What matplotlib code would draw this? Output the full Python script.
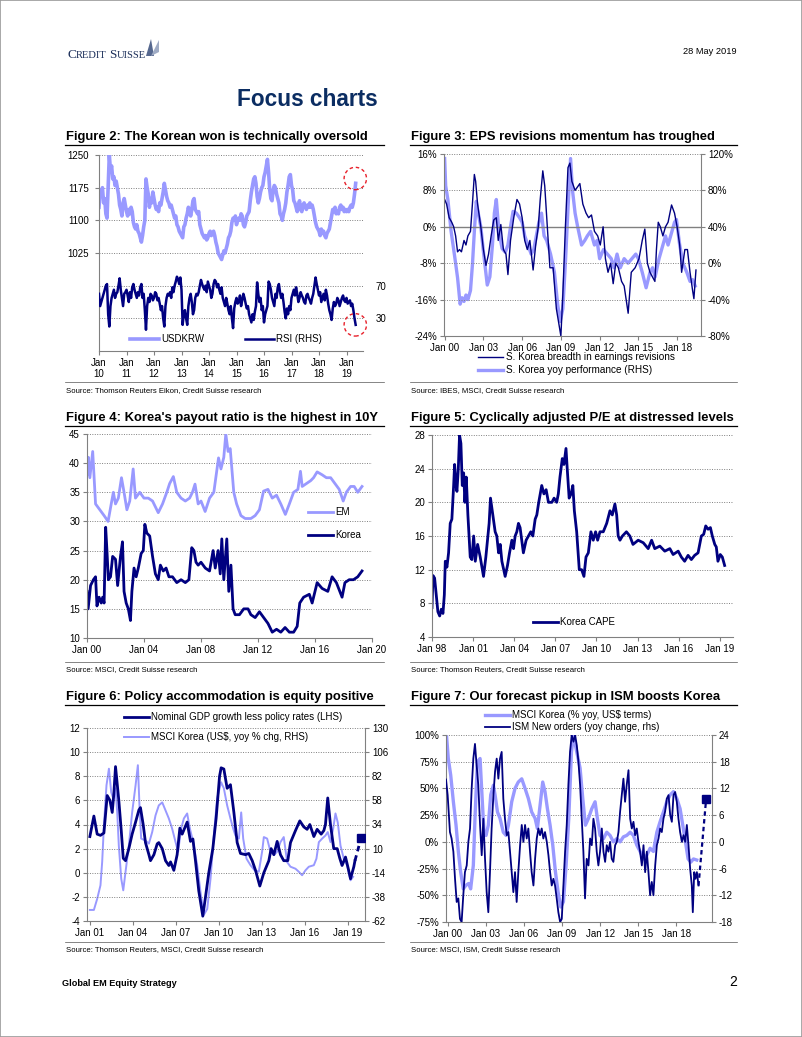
import numpy as np
import matplotlib.pyplot as plt
from matplotlib.lines import Line2D
from matplotlib.patches import Polygon, Rectangle

# ---------------- data ----------------
# Figure 2: USDKRW and RSI, two readings per month from Jan 2010
usdkrw = [
    1130, 1170, 1160, 1175, 1140, 1150, 1115, 1105, 1180, 1250, 1215, 1225,
    1195, 1200, 1180, 1190, 1175, 1160, 1135, 1125, 1110, 1140, 1150, 1135,
    1120, 1110, 1125, 1115, 1130, 1120, 1095, 1085, 1080, 1090, 1075, 1070,
    1060, 1050, 1065, 1085, 1100, 1195, 1175, 1160, 1130, 1150, 1140, 1165,
    1150, 1135, 1125, 1130, 1120, 1140, 1135, 1150, 1165, 1185, 1170, 1155,
    1145, 1140, 1130, 1135, 1125, 1115, 1105, 1110, 1090, 1085, 1075, 1070,
    1065, 1060, 1085, 1090, 1105, 1115, 1130, 1120, 1110, 1125, 1145, 1150,
    1125, 1120, 1115, 1120, 1090, 1080, 1070, 1065, 1060, 1065, 1055, 1060,
    1070, 1075, 1065, 1070, 1075, 1065, 1050, 1040, 1025, 1020, 1015, 1010,
    1020, 1030, 1025, 1035, 1045, 1060, 1065, 1075, 1095, 1105, 1100, 1110,
    1090, 1100, 1105, 1100, 1115, 1110, 1090, 1085, 1095, 1110, 1115, 1120,
    1145, 1165, 1180, 1195, 1200, 1185, 1155, 1140, 1150, 1165, 1175, 1180,
    1200, 1210, 1225, 1240, 1210, 1170, 1150, 1145, 1170, 1180, 1175, 1160,
    1150, 1140, 1115, 1110, 1100, 1115, 1125, 1140, 1165, 1180, 1200, 1205,
    1180, 1170, 1145, 1140, 1130, 1120, 1135, 1145, 1125, 1120, 1135, 1140,
    1130, 1125, 1135, 1130, 1140, 1130, 1135, 1125, 1110, 1095, 1085, 1080,
    1075, 1065, 1080, 1070, 1075, 1065, 1060, 1070, 1075, 1080, 1095, 1110,
    1125, 1120, 1130, 1115, 1120, 1115, 1130, 1135, 1125, 1130, 1120, 1125,
    1120, 1125, 1120, 1130, 1135, 1130, 1140, 1160, 1185,
]
rsi = [
    60, 45, 50, 55, 60, 65, 70, 72, 35, 20, 45, 55, 60, 65, 55, 60, 62, 70, 79, 65, 55, 45, 60, 62,
    65, 58, 50, 62, 55, 68, 72, 65, 60, 55, 62, 58, 68, 72, 55, 60, 40, 16, 45, 55, 50, 60, 58, 52,
    55, 62, 60, 52, 55, 48, 40, 45, 30, 20, 45, 55, 60, 58, 62, 55, 68, 62, 70, 75, 81, 78, 72, 80,
    65, 22, 35, 40, 30, 22, 45, 55, 60, 50, 35, 40, 55, 60, 58, 62, 70, 77, 72, 68, 65, 70, 62, 75,
    70, 65, 55, 60, 72, 77, 75, 68, 72, 65, 60, 68, 55, 50, 45, 55, 48, 40, 35, 45, 30, 18, 42, 50,
    55, 48, 50, 58, 45, 52, 60, 55, 48, 42, 45, 35, 30, 25, 35, 28, 38, 45, 74, 60, 50, 55, 40, 45,
    25, 35, 40, 45, 75, 72, 65, 55, 50, 45, 60, 55, 68, 72, 62, 55, 60, 50, 38, 30, 42, 35, 45, 40,
    55, 60, 65, 58, 68, 60, 50, 55, 62, 58, 55, 50, 48, 58, 60, 55, 52, 48, 55, 60, 70, 80, 72, 65,
    58, 62, 50, 55, 60, 52, 65, 58, 48, 40, 35, 28, 42, 50, 45, 48, 55, 52, 45, 50, 55, 58, 52, 50,
    55, 48, 50, 52, 45, 48, 40, 30, 22,
]
fig2_start = 2010.0

# Figure 3: (decimal year, value)
breadth = [
    (2000.0, 6), (2000.15, 5), (2000.35, 2), (2000.55, 1), (2000.7, 0), (2000.85, -2),
    (2001.0, -5.5), (2001.15, -5), (2001.3, -5.5), (2001.5, -3), (2001.65, -4), (2001.8, -2),
    (2002.0, -1), (2002.15, 5), (2002.3, 11.5), (2002.4, 10), (2002.55, 5), (2002.8, 0),
    (2003.0, -5), (2003.2, -8.5), (2003.4, -6), (2003.6, -2), (2003.8, 1.5), (2004.0, 2),
    (2004.15, -3), (2004.35, 0.5), (2004.55, -5), (2004.75, -6), (2004.9, -10.5), (2005.1, -3),
    (2005.35, 2), (2005.6, 6), (2005.8, 5), (2006.0, 2), (2006.2, -3), (2006.4, -5), (2006.6, -3),
    (2006.85, -9.5), (2007.05, -4), (2007.25, 0), (2007.4, 6), (2007.6, 12.3), (2007.75, 9),
    (2007.95, 0), (2008.15, -9), (2008.4, -9), (2008.65, -18), (2009.0, -24), (2009.15, -15),
    (2009.35, 0), (2009.55, 13), (2009.7, 14), (2009.85, 10), (2010.1, 8), (2010.47, 9.5),
    (2010.7, 5), (2010.95, 3), (2011.15, 2), (2011.37, 2.6), (2011.6, -1), (2011.85, -2),
    (2012.05, -4), (2012.27, 0), (2012.45, -7), (2012.65, -10), (2012.85, -8), (2013.05, -12.5),
    (2013.25, -8), (2013.45, -9), (2013.7, -12), (2013.9, -13), (2014.21, -19), (2014.45, -10),
    (2014.75, -9), (2015.05, -7), (2015.3, -3), (2015.5, -0.5), (2015.7, -8), (2015.9, -10),
    (2016.28, -12), (2016.4, -5), (2016.54, 1), (2016.7, 0), (2016.9, -2), (2017.1, 0),
    (2017.3, 1), (2017.57, 4.8), (2017.8, 3), (2018.0, 0), (2018.2, -4), (2018.35, -10),
    (2018.6, -5), (2018.8, -5), (2019.0, -10), (2019.2, -14), (2019.3, -15.8), (2019.46, -9.5),
]
kor_yoy = [
    (2000.0, 115), (2000.08, 85), (2000.25, 70), (2000.5, 35), (2000.8, 5), (2001.0, -16),
    (2001.2, -45), (2001.35, -38), (2001.5, -42), (2001.65, -35), (2001.8, -40), (2002.0, -30),
    (2002.15, -2), (2002.3, 35), (2002.45, 68), (2002.6, 55), (2002.8, 40), (2003.0, 13),
    (2003.3, -24), (2003.5, -15), (2003.7, 20), (2003.85, 55), (2004.0, 70), (2004.2, 35),
    (2004.45, 16), (2004.7, 12), (2004.9, 20), (2005.1, 40), (2005.3, 57), (2005.55, 55),
    (2005.8, 50), (2006.0, 45), (2006.2, 30), (2006.45, 20), (2006.7, 10), (2006.9, 15),
    (2007.1, 30), (2007.3, 45), (2007.5, 55), (2007.7, 30), (2007.9, 25), (2008.2, 10),
    (2008.5, -10), (2008.75, -45), (2008.95, -64), (2009.15, -50), (2009.35, 0), (2009.55, 60),
    (2009.75, 115), (2009.9, 80), (2010.1, 55), (2010.3, 40), (2010.6, 20), (2010.85, 25),
    (2011.05, 30), (2011.3, 35), (2011.6, 20), (2011.8, 25), (2012.0, 5), (2012.3, 15),
    (2012.6, 10), (2012.9, 5), (2013.1, -5), (2013.35, 10), (2013.6, -5), (2013.9, 5),
    (2014.2, 0), (2014.5, 5), (2014.8, 10), (2015.0, 5), (2015.3, -10), (2015.6, -27),
    (2015.9, -10), (2016.1, -5), (2016.3, -15), (2016.6, 5), (2016.9, 20), (2017.1, 30),
    (2017.3, 20), (2017.5, 30), (2017.8, 45), (2017.95, 48), (2018.2, 20), (2018.45, 0),
    (2018.75, -10), (2019.0, -20), (2019.2, -18), (2019.4, -25),
]

# Figure 4: payout ratio
em_payout = [
    (2000.0, 38), (2000.1, 41), (2000.2, 37.5), (2000.4, 42), (2000.6, 33), (2000.9, 32),
    (2001.2, 31), (2001.48, 30), (2001.7, 33), (2001.85, 35), (2002.0, 33), (2002.2, 34),
    (2002.42, 37.5), (2002.6, 35), (2002.8, 32), (2003.0, 33.5), (2003.24, 39), (2003.4, 34),
    (2003.7, 35), (2004.0, 34), (2004.3, 34), (2004.6, 33.5), (2005.0, 31.5), (2005.3, 33),
    (2005.6, 35), (2005.8, 36.5), (2006.06, 37.7), (2006.3, 35), (2006.6, 34), (2006.9, 33.5),
    (2007.2, 34), (2007.4, 35), (2007.58, 36.4), (2007.8, 33), (2008.0, 33.5), (2008.29, 31.7),
    (2008.6, 34), (2008.9, 35), (2009.23, 40.9), (2009.4, 39), (2009.6, 41), (2009.74, 45),
    (2009.9, 42), (2010.05, 42.5), (2010.3, 35), (2010.5, 33), (2010.8, 31), (2011.1, 30.5),
    (2011.5, 30.5), (2011.8, 31), (2012.1, 32), (2012.39, 35.2), (2012.7, 35.5), (2013.0, 34),
    (2013.3, 34.5), (2013.6, 33), (2013.92, 31.2), (2014.2, 33), (2014.5, 35), (2014.8, 35.5),
    (2014.98, 38.6), (2015.1, 36), (2015.4, 36.5), (2015.7, 37), (2015.9, 37.5), (2016.15, 38.5),
    (2016.5, 38), (2016.8, 37.5), (2017.1, 37.5), (2017.4, 36.5), (2017.7, 35.5), (2017.98, 33.5),
    (2018.2, 35), (2018.5, 36), (2018.75, 36), (2019.0, 35), (2019.3, 36),
]
korea_payout = [
    (2000.0, 18), (2000.08, 15), (2000.25, 19), (2000.45, 20), (2000.6, 20.5), (2000.7, 15.5),
    (2000.85, 17), (2001.0, 16), (2001.1, 17), (2001.2, 16), (2001.31, 29), (2001.4, 25),
    (2001.5, 20), (2001.65, 20.5), (2001.8, 24), (2002.0, 23.5), (2002.15, 19), (2002.35, 24),
    (2002.49, 26.5), (2002.6, 18), (2002.75, 16), (2002.9, 15), (2003.05, 13), (2003.15, 18),
    (2003.3, 22), (2003.45, 20.5), (2003.6, 22), (2003.8, 24.5), (2003.95, 25), (2004.06, 29.5),
    (2004.2, 28), (2004.4, 27.5), (2004.6, 24), (2004.8, 21), (2005.0, 20), (2005.15, 22.5),
    (2005.35, 21.5), (2005.55, 22), (2005.75, 20.5), (2006.0, 20.5), (2006.3, 19.5), (2006.6, 20),
    (2006.9, 19.5), (2007.15, 20), (2007.35, 25.5), (2007.5, 25), (2007.65, 23), (2007.8, 22.5),
    (2008.0, 23), (2008.3, 22), (2008.6, 21.5), (2008.85, 25), (2009.0, 22), (2009.2, 25),
    (2009.35, 21), (2009.46, 27), (2009.6, 20), (2009.81, 27), (2009.95, 18), (2010.1, 22.5),
    (2010.25, 15), (2010.4, 14), (2010.7, 14), (2011.0, 15), (2011.3, 15), (2011.5, 14),
    (2011.8, 13.5), (2012.1, 14.5), (2012.4, 13.5), (2012.7, 12.5), (2013.0, 11), (2013.3, 11.5),
    (2013.6, 11), (2013.9, 11.8), (2014.2, 11), (2014.5, 11), (2014.75, 12), (2014.93, 16),
    (2015.2, 17), (2015.6, 17.5), (2015.8, 16), (2016.15, 19.5), (2016.5, 18.5), (2016.9, 18),
    (2017.2, 20.5), (2017.5, 19.5), (2017.9, 17), (2018.1, 19.5), (2018.4, 20), (2018.7, 20),
    (2019.0, 20.5), (2019.3, 21.5),
]

# Figure 5: Korea CAPE
cape = [
    (1998.0, 7.5), (1998.07, 11.3), (1998.19, 11), (1998.31, 9), (1998.43, 7), (1998.56, 6.5),
    (1998.68, 7.3), (1998.8, 6.8), (1998.9, 9), (1998.97, 13), (1999.09, 12.3), (1999.21, 14),
    (1999.33, 17.5), (1999.45, 18), (1999.58, 22), (1999.65, 24.5), (1999.75, 22), (1999.82, 21.3),
    (1999.92, 24), (2000.01, 28), (2000.11, 27), (2000.21, 22), (2000.31, 23.5), (2000.4, 20),
    (2000.5, 23), (2000.62, 18.5), (2000.79, 13.5), (2000.91, 13.2), (2001.04, 16), (2001.16, 13),
    (2001.33, 15), (2001.52, 13.5), (2001.76, 11.2), (2001.93, 13.5), (2002.05, 15.5),
    (2002.17, 17.5), (2002.27, 20.5), (2002.44, 18.5), (2002.61, 16.5), (2002.73, 16),
    (2002.86, 14), (2002.98, 15), (2003.1, 13), (2003.34, 11.2), (2003.51, 12.5), (2003.66, 14),
    (2003.83, 15.5), (2003.95, 14.5), (2004.07, 16), (2004.19, 16.5), (2004.31, 17.5),
    (2004.43, 17), (2004.55, 15.5), (2004.67, 14), (2004.87, 15.5), (2005.04, 16),
    (2005.21, 16.5), (2005.36, 16), (2005.53, 18), (2005.65, 18.5), (2005.79, 20), (2006.01, 22),
    (2006.17, 21), (2006.33, 21.5), (2006.5, 20), (2006.75, 20), (2006.91, 20.5), (2007.1, 20),
    (2007.22, 21), (2007.34, 23), (2007.51, 25.2), (2007.63, 24.5), (2007.78, 26.4),
    (2007.87, 24), (2008.01, 20.5), (2008.15, 21), (2008.28, 22), (2008.39, 19),
    (2008.56, 16.5), (2008.75, 12), (2008.92, 12), (2009.09, 11.2), (2009.24, 13.5),
    (2009.41, 14), (2009.6, 16.5), (2009.77, 15.5), (2009.94, 16.5), (2010.09, 15.5),
    (2010.26, 16.5), (2010.5, 16.5), (2010.75, 17.5), (2010.99, 19), (2011.16, 18.5),
    (2011.35, 19.8), (2011.48, 18.5), (2011.59, 16), (2011.72, 15.5), (2011.9, 16),
    (2012.19, 16.5), (2012.44, 16), (2012.67, 15), (2013.05, 15.5), (2013.42, 15.2),
    (2013.78, 14.5), (2014.03, 15.5), (2014.26, 14.5), (2014.63, 14.8), (2014.99, 14.2),
    (2015.36, 14.5), (2015.6, 13.8), (2015.97, 14.2), (2016.2, 13.5), (2016.44, 13),
    (2016.69, 13.7), (2016.93, 13.2), (2017.17, 13.7), (2017.42, 14), (2017.54, 15),
    (2017.66, 16), (2017.83, 16.2), (2017.98, 17.2), (2018.15, 16.8), (2018.32, 17),
    (2018.46, 16), (2018.64, 15), (2018.75, 14.7), (2018.87, 13), (2019.04, 13.8),
    (2019.19, 13.5), (2019.36, 12.5),
]

# Figure 6: nominal GDP growth less policy rates (LHS) and MSCI Korea yoy (RHS)
gdp_less_rates = [
    (2001.0, 3.0), (2001.28, 4.7), (2001.51, 3.2), (2001.74, 3.1), (2001.98, 3.3), (2002.21, 6.4),
    (2002.4, 6.0), (2002.56, 5.0), (2002.67, 6.5), (2002.79, 8.8), (2003.02, 6.0), (2003.19, 3.5),
    (2003.33, 1.2), (2003.49, 1.0), (2003.72, 2.0), (2003.95, 3.2), (2004.19, 4.2), (2004.42, 5.2),
    (2004.53, 5.4), (2004.72, 4.0), (2004.88, 2.5), (2005.12, 1.5), (2005.23, 1.0), (2005.47, 1.5),
    (2005.7, 2.4), (2005.81, 2.5), (2006.05, 2.0), (2006.28, 1.0), (2006.51, 0.6), (2006.63, 0.9),
    (2006.86, 0.2), (2007.09, 1.5), (2007.28, 3.7), (2007.44, 3.2), (2007.79, 4.2), (2008.02, 2.6),
    (2008.19, 2.8), (2008.37, 1.0), (2008.6, -1.5), (2008.88, -3.6), (2009.07, -2.0), (2009.3, 0.0),
    (2009.58, 2.0), (2009.81, 4.5), (2010.05, 8.0), (2010.16, 8.7), (2010.35, 8.6), (2010.58, 7.0),
    (2010.81, 7.3), (2011.05, 5.0), (2011.28, 2.5), (2011.51, 1.6), (2011.86, 1.5), (2012.09, 1.6),
    (2012.33, 1.0), (2012.56, 0.2), (2012.86, -1.1), (2013.14, 0.0), (2013.49, 1.0), (2013.65, 2.0),
    (2013.84, 1.5), (2014.07, 2.6), (2014.3, 1.5), (2014.53, 1.0), (2014.81, 1.0), (2015.0, 2.5),
    (2015.35, 3.5), (2015.65, 4.3), (2015.93, 3.8), (2016.16, 3.6), (2016.35, 4.0), (2016.63, 3.0),
    (2016.86, 3.6), (2017.14, 3.2), (2017.33, 3.5), (2017.44, 4.0), (2017.6, 6.2), (2017.79, 4.0),
    (2018.02, 2.0), (2018.26, 2.0), (2018.44, 1.2), (2018.6, 0.6), (2018.84, 1.3), (2019.02, 0.4),
    (2019.19, -0.5), (2019.42, 0.5), (2019.5, 1.0),
]
gdp_forecast = [(2019.5, 1.0), (2019.93, 2.9)]
msci_korea_6 = [
    (2001.0, -51), (2001.28, -51), (2001.51, -40), (2001.74, -26.5), (2001.86, -3), (2001.98, 33),
    (2002.16, 73), (2002.33, 89.5), (2002.49, 66), (2002.63, 60), (2002.79, 70), (2002.91, 46),
    (2003.02, 13), (2003.19, -20), (2003.33, -31.5), (2003.49, -13), (2003.72, 13), (2003.95, 46),
    (2004.19, 73), (2004.35, 93), (2004.47, 50), (2004.58, 20), (2004.88, 18), (2005.12, 15),
    (2005.35, 26.5), (2005.58, 43), (2005.81, 53), (2006.05, 56), (2006.28, 48), (2006.51, 40),
    (2006.74, 30), (2006.98, 16.5), (2007.16, 7), (2007.37, 30), (2007.56, 40), (2007.79, 45),
    (2007.98, 30), (2008.21, 16.5), (2008.49, -6.5), (2008.72, -33), (2008.95, -56),
    (2009.19, -50), (2009.42, -20), (2009.65, 23), (2009.88, 60), (2010.16, 76), (2010.35, 70),
    (2010.58, 53), (2010.81, 40), (2011.0, 30), (2011.16, 23), (2011.4, 20), (2011.56, 46),
    (2011.7, 20), (2011.93, 0), (2012.21, -6.5), (2012.49, -11.5), (2012.79, -13), (2013.02, 7),
    (2013.14, 21.5), (2013.37, 20), (2013.6, 7), (2013.84, 3.5), (2014.07, 7), (2014.3, 16.5),
    (2014.53, 21.5), (2014.77, -3.5), (2015.0, -8), (2015.35, -10), (2015.58, -13),
    (2015.81, -16.5), (2016.05, -11.5), (2016.28, -8), (2016.63, -6.5), (2016.81, 0),
    (2016.98, 16.5), (2017.21, 20), (2017.44, 23), (2017.6, 26.5), (2017.79, 16.5),
    (2017.98, 30), (2018.14, 45), (2018.3, 36), (2018.49, 13), (2018.72, 0), (2018.95, -6.5),
    (2019.19, -21.5), (2019.37, -18),
]

# Figure 7: MSCI Korea yoy (LHS, %) and ISM new orders yoy change (RHS)
msci_korea_7 = [
    (1999.92, 98), (2000.05, 78), (2000.24, 62.5), (2000.45, 37.5), (2000.66, 15.6),
    (2000.84, -9), (2001.02, -28), (2001.23, -44), (2001.44, -40.6), (2001.65, -39),
    (2001.81, -44), (2002.02, -22), (2002.15, 22), (2002.34, 75), (2002.55, 78), (2002.7, 44),
    (2002.86, 9), (2003.02, 6), (2003.2, 15.6), (2003.39, 44), (2003.6, 53), (2003.73, 44),
    (2003.92, 28), (2004.12, 22), (2004.38, 9), (2004.6, 6), (2004.78, 15.6), (2005.04, 37.5),
    (2005.3, 50), (2005.56, 56), (2005.83, 59), (2006.09, 50), (2006.35, 40.6), (2006.61, 28),
    (2006.88, 22), (2007.06, 12.5), (2007.27, 34), (2007.48, 56), (2007.66, 47), (2007.85, 31),
    (2008.06, 15.6), (2008.27, -3), (2008.48, -28), (2008.69, -47), (2008.9, -61),
    (2009.11, -56), (2009.32, -22), (2009.53, 22), (2009.74, 84), (2009.9, 100), (2010.16, 84),
    (2010.42, 69), (2010.63, 40.6), (2010.84, 15.6), (2011.08, 22), (2011.34, 31),
    (2011.6, 37.5), (2011.78, 22), (2011.99, 6), (2012.26, 3), (2012.52, 9), (2012.78, 6),
    (2013.04, 0), (2013.31, 3), (2013.57, 0), (2013.83, 4.7), (2014.09, 6), (2014.36, 9),
    (2014.62, 6), (2014.88, -3), (2015.14, -9), (2015.41, -16), (2015.67, -12.5),
    (2015.93, -6), (2016.19, -9), (2016.46, 9), (2016.72, 19), (2016.98, 28), (2017.24, 37.5),
    (2017.51, 44), (2017.77, 47), (2018.03, 40.6), (2018.29, 31), (2018.5, 15.6), (2018.71, 0),
    (2018.92, -16), (2019.13, -19), (2019.34, -16), (2019.6, -17),
]
ism_new_orders = [
    (1999.87, 14), (2000.0, 10.5), (2000.18, 2.2), (2000.31, 0.75), (2000.45, -2.2),
    (2000.58, -8.3), (2000.71, -13.5), (2000.84, -12.7), (2000.97, -17.3), (2001.1, -18),
    (2001.23, -12), (2001.36, -6.8), (2001.5, -5.3), (2001.63, 0), (2001.76, 3), (2001.89, 12),
    (2002.02, 18.7), (2002.15, 22), (2002.28, 17.2), (2002.41, 12.8), (2002.55, 3.8),
    (2002.68, -3), (2002.81, 5.2), (2002.94, -3.8), (2003.07, -11.3), (2003.2, -15.8),
    (2003.33, -6.8), (2003.46, 3), (2003.6, 10.5), (2003.73, 15.8), (2003.86, 18.7),
    (2003.99, 14.2), (2004.12, 18.7), (2004.25, 20.2), (2004.38, 9.7), (2004.51, 5.2),
    (2004.65, 1.5), (2004.78, 2.2), (2004.91, -2.2), (2005.04, -6.8), (2005.17, -11.3),
    (2005.3, -6.8), (2005.43, -13.5), (2005.56, -6.8), (2005.7, -0.75), (2005.83, 3.8),
    (2005.96, 0), (2006.09, 3.8), (2006.22, 0.75), (2006.35, 3), (2006.48, -2.2), (2006.61, -6.8),
    (2006.75, -9.8), (2006.88, -3.8), (2007.01, 0.75), (2007.14, 3), (2007.27, 1.5),
    (2007.4, 3), (2007.53, 0.75), (2007.66, 2.2), (2007.8, 0), (2007.93, -3), (2008.06, -6.8),
    (2008.19, -9.8), (2008.32, -8.3), (2008.45, -9.8), (2008.58, -12.7), (2008.71, -15.8),
    (2008.85, -18), (2008.98, -17.3), (2009.11, -9.8), (2009.24, -2.2), (2009.37, 3.8),
    (2009.5, 12.8), (2009.63, 20.2), (2009.76, 24), (2009.9, 22.5), (2010.03, 24),
    (2010.16, 21.7), (2010.29, 18), (2010.42, 12.8), (2010.55, 5.2), (2010.68, -2.2),
    (2010.81, -12.7), (2010.94, -3.8), (2011.08, -5.3), (2011.21, 0.75), (2011.34, -0.75),
    (2011.47, 5.2), (2011.6, 3), (2011.73, -2.2), (2011.86, -5.3), (2011.99, -2.2), (2012.13, 3),
    (2012.26, -2.2), (2012.39, -4.5), (2012.52, -0.75), (2012.65, -2.2), (2012.78, 0),
    (2012.91, -3.8), (2013.04, -4.5), (2013.18, -0.75), (2013.31, 0), (2013.44, 2.2),
    (2013.57, 6.8), (2013.7, 10.5), (2013.83, 14.2), (2013.96, 9), (2014.09, 12.8),
    (2014.23, 16.1), (2014.36, 5.2), (2014.49, 3), (2014.62, 4.5), (2014.75, 1.5), (2014.88, 3),
    (2015.01, 0), (2015.14, -2.2), (2015.28, -5.3), (2015.41, -0.75), (2015.54, -6.8),
    (2015.67, -2.2), (2015.8, -6.8), (2015.93, -12), (2016.06, -9), (2016.19, -12),
    (2016.33, -5.3), (2016.46, -0.75), (2016.59, 0.75), (2016.72, 3), (2016.85, 2.2),
    (2016.98, 5.2), (2017.11, 6.8), (2017.24, 9.7), (2017.38, 10.5), (2017.51, 6), (2017.64, 4.5),
    (2017.77, 10.5), (2017.9, 11.2), (2018.03, 9), (2018.16, 5.2), (2018.29, 2.2), (2018.43, 0),
    (2018.56, 1.5), (2018.69, 0), (2018.82, 3.8), (2018.95, -0.75), (2019.08, -6),
    (2019.21, -9.8), (2019.29, -15.8), (2019.4, -6.8), (2019.5, -8.3), (2019.61, -6.8),
    (2019.74, -9.8),
]
ism_forecast = [(2019.74, -9.8), (2020.34, 9.7)]

# ---------------- drawing ----------------
W, H = 802, 1037
LIGHT = '#9999ff'
DARK = '#000080'
AXC = '#808080'
NAVY = '#0b2d62'

plt.rcParams['font.family'] = ['Liberation Sans', 'DejaVu Sans']
plt.rcParams['axes.unicode_minus'] = False

fig = plt.figure(figsize=(W / 100, H / 100), dpi=100)


def add_ax(l, t, r, b):
    return fig.add_axes([l / W, 1 - b / H, (r - l) / W, (b - t) / H])


def ftext(x, y, s, **kw):
    kw.setdefault('va', 'center')
    return fig.text(x / W, 1 - y / H, s, **kw)


def fline(x0, x1, y, lw=0.6, color='black'):
    fig.add_artist(Line2D([x0 / W, x1 / W], [1 - y / H] * 2, lw=lw, color=color))


def style(ax, right=False, grid=True):
    ax.spines['top'].set_visible(False)
    ax.spines['right'].set_visible(right)
    for s in ('left', 'right', 'bottom'):
        ax.spines[s].set_color(AXC)
        ax.spines[s].set_linewidth(0.8)
    ax.tick_params(labelsize=7, length=3, width=0.8, color=AXC, pad=2)
    if grid:
        ax.yaxis.grid(True, ls=(0, (1, 1.5)), color=AXC, lw=0.7)
    ax.set_axisbelow(True)


def twin(ax, right=False):
    axr = ax.twinx()
    for s in ('top', 'left', 'bottom'):
        axr.spines[s].set_visible(False)
    axr.spines['right'].set_visible(right)
    axr.spines['right'].set_color(AXC)
    axr.spines['right'].set_linewidth(0.8)
    axr.tick_params(labelsize=7, length=3, width=0.8, color=AXC, pad=2)
    return axr


def split(pairs):
    t, v = zip(*pairs)
    return np.array(t), np.array(v)


def yr_labels(years):
    return ['Jan %02d' % (y % 100) for y in years]


# page frame
fig.add_artist(Rectangle((0, 0), 1, 1, transform=fig.transFigure, fill=False,
                         ec='#9a9a9a', lw=1.2))

# header: small-caps style logo
logo = dict(family='Liberation Serif', color='#1c2f5a', va='baseline')
ftext(67, 58, 'C', fontsize=9.5, **logo)
ftext(75.8, 58, 'REDIT', fontsize=7.6, **logo)
ftext(109, 58, 'S', fontsize=9.5, **logo)
ftext(116.3, 58, 'UISSE', fontsize=7.6, **logo)
fig.add_artist(Polygon([(146 / W, 1 - 56 / H), (151 / W, 1 - 39 / H), (154 / W, 1 - 56 / H)],
                       closed=True, transform=fig.transFigure, fc='#56688f', ec='none'))
fig.add_artist(Polygon([(151 / W, 1 - 56 / H), (159 / W, 1 - 40 / H), (159 / W, 1 - 52 / H)],
                       closed=True, transform=fig.transFigure, fc='#9fabc4', ec='none'))
ftext(737, 52, '28 May 2019', fontsize=6.7, ha='right')
ftext(237, 100, 'Focus charts', fontsize=16.3, fontweight='bold', color=NAVY)

# footer
ftext(62, 983, 'Global EM Equity Strategy', fontsize=6.6, fontweight='bold')
ftext(737, 982, '2', fontsize=10, ha='right')

# titles, rules and sources
panels = [
    (65, 384, 137, 145, 382, 391, 'Figure 2: The Korean won is technically oversold',
     'Source: Thomson Reuters Eikon, Credit Suisse research'),
    (410, 737, 137, 145, 382, 391, 'Figure 3: EPS revisions momentum has troughed',
     'Source: IBES, MSCI, Credit Suisse research'),
    (65, 384, 418, 426, 662, 670, "Figure 4: Korea's payout ratio is the highest in 10Y",
     'Source: MSCI, Credit Suisse research'),
    (410, 737, 418, 426, 662, 670, 'Figure 5: Cyclically adjusted P/E at distressed levels',
     'Source: Thomson Reuters, Credit Suisse research'),
    (65, 384, 697, 705, 942, 950, 'Figure 6: Policy accommodation is equity positive',
     'Source: Thomson Reuters, MSCI, Credit Suisse research'),
    (410, 737, 697, 705, 942, 950, 'Figure 7: Our forecast pickup in ISM boosts Korea',
     'Source: MSCI, ISM, Credit Suisse research'),
]
for x0, x1, ty, ry, sy, sry, title, src in panels:
    ftext(x0 + 1, ty, title, fontsize=9.4, fontweight='bold')
    fline(x0, x1, ry, lw=0.9)
    fline(x0, x1, sy, lw=0.5, color='#555555')
    ftext(x0 + 1, sry, src, fontsize=5.6)

# ---- Figure 2 ----
ax = add_ax(99, 155, 363, 351)
style(ax)
t2 = fig2_start + np.arange(len(usdkrw)) / 24
ax.plot(t2, usdkrw, color=LIGHT, lw=2.6)
ax.set_xlim(2010, 2019.6)
ax.set_ylim(800, 1250)
ax.set_yticks([1025, 1100, 1175, 1250])
ax.tick_params(axis='y', pad=4)
ax.set_xticks(range(2010, 2020))
ax.set_xticklabels(['Jan\n%02d' % (y % 100) for y in range(2010, 2020)], linespacing=1.15)
axr = twin(ax)
axr.plot(fig2_start + np.arange(len(rsi)) / 24, rsi, color=DARK, lw=1.8)
axr.set_ylim(-10, 230)
axr.set_yticks([30, 70])
axr.tick_params(axis='y', length=0, pad=9)
axr.yaxis.grid(True, ls=(0, (1, 1.5)), color=AXC, lw=0.7)
ax.scatter([2019.32], [1196], s=260, facecolors='none', edgecolors='#e8202a',
           linestyle=(0, (2.5, 2)), lw=1, clip_on=False, zorder=5)
axr.scatter([2019.32], [22], s=260, facecolors='none', edgecolors='#e8202a',
            linestyle=(0, (2.5, 2)), lw=1, clip_on=False, zorder=5)
axr.legend([Line2D([], [], color=LIGHT, lw=2.6), Line2D([], [], color=DARK, lw=1.8)],
           ['USDKRW', 'RSI (RHS)'], loc='center', bbox_to_anchor=(0.48, 0.06), ncol=2,
           frameon=False, fontsize=7, handlelength=3.0, handletextpad=0.2,
           columnspacing=4.2, borderaxespad=0)

# ---- Figure 3 ----
ax = add_ax(444, 154, 701, 336)
style(ax)
bt, bv = split(breadth)
ax.plot(bt, bv, color=DARK, lw=1.0)
ax.axhline(0, color=AXC, lw=1.0, zorder=1)
ax.set_ylim(-24, 16)
ax.set_yticks(range(-24, 17, 8))
ax.set_yticklabels(['%d%%' % v for v in range(-24, 17, 8)])
ax.set_xlim(1999.95, 2019.85)
ax.set_xticks(range(2000, 2019, 3))
ax.set_xticklabels(yr_labels(range(2000, 2019, 3)))
axr = twin(ax, right=True)
yt, yv = split(kor_yoy)
axr.plot(yt, yv, color=LIGHT, lw=2.4)
axr.set_ylim(-80, 120)
axr.set_yticks(range(-80, 121, 40))
axr.set_yticklabels(['%d%%' % v for v in range(-80, 121, 40)])
ax.set_zorder(axr.get_zorder() + 1)
ax.patch.set_visible(False)
fig.legend([Line2D([], [], color=DARK, lw=1.0), Line2D([], [], color=LIGHT, lw=2.4)],
           ['S. Korea breadth in earnings revisions', 'S. Korea yoy performance (RHS)'],
           loc='upper left', bbox_to_anchor=(478 / W, 1 - 352 / H), frameon=False,
           fontsize=7.2, handlelength=2.5, handletextpad=0.3, labelspacing=0.3,
           borderpad=0, borderaxespad=0)

# ---- Figure 4 ----
ax = add_ax(87, 434, 372, 638)
style(ax)
et, ev = split(em_payout)
kt, kv = split(korea_payout)
ax.plot(et, ev, color=LIGHT, lw=2.0)
ax.plot(kt, kv, color=DARK, lw=2.0)
ax.set_ylim(10, 45)
ax.set_yticks(range(10, 46, 5))
ax.set_xlim(2000, 2020)
ax.set_xticks(range(2000, 2021, 4))
ax.set_xticklabels(yr_labels(range(2000, 2021, 4)))
fig.legend([Line2D([], [], color=LIGHT, lw=2.0), Line2D([], [], color=DARK, lw=2.0)],
           ['EM', 'Korea'], loc='upper left', bbox_to_anchor=(308 / W, 1 - 507 / H),
           frameon=False, fontsize=7, handlelength=2.6, handletextpad=0.2,
           labelspacing=1.35, borderpad=0, borderaxespad=0)

# ---- Figure 5 ----
ax = add_ax(432, 435, 733, 637)
style(ax)
ct, cv = split(cape)
ax.plot(ct, cv, color=DARK, lw=2.0)
ax.set_ylim(4, 28)
ax.set_yticks(range(4, 29, 4))
ax.set_xlim(1998, 2019.97)
ax.set_xticks(range(1998, 2020, 3))
ax.set_xticklabels(yr_labels(range(1998, 2020, 3)))
fig.legend([Line2D([], [], color=DARK, lw=2.0)], ['Korea CAPE'], loc='upper left',
           bbox_to_anchor=(533 / W, 1 - 617 / H), frameon=False, fontsize=7,
           handlelength=2.6, handletextpad=0.2, borderpad=0, borderaxespad=0)

# ---- Figure 6 ----
ax = add_ax(87, 728, 365, 921)
style(ax)
gt, gv = split(gdp_less_rates)
ft, fv = split(gdp_forecast)
ax.plot(gt, gv, color=DARK, lw=2.0)
ax.plot(ft, fv, color=DARK, lw=2.0, ls=(0, (2, 1.5)))
ax.plot(ft[-1:], fv[-1:], ls='none', marker='s', ms=5.5, color=DARK)
ax.set_ylim(-4, 12)
ax.set_yticks(range(-4, 13, 2))
ax.set_xlim(2000.8, 2020.2)
ax.set_xticks(range(2001, 2020, 3))
ax.set_xticklabels(yr_labels(range(2001, 2020, 3)))
axr = twin(ax, right=True)
mt, mv = split(msci_korea_6)
axr.plot(mt, mv, color=LIGHT, lw=1.4)
axr.set_ylim(-62, 130)
axr.set_yticks(range(-62, 131, 24))
ax.set_zorder(axr.get_zorder() + 1)
ax.patch.set_visible(False)
fig.legend([Line2D([], [], color=DARK, lw=2.0), Line2D([], [], color=LIGHT, lw=1.4)],
           ['Nominal GDP growth less policy rates (LHS)', 'MSCI Korea (US$, yoy % chg, RHS)'],
           loc='upper left', bbox_to_anchor=(124 / W, 1 - 712 / H), frameon=False,
           fontsize=7, handlelength=2.6, handletextpad=0.2, labelspacing=1.05,
           borderpad=0, borderaxespad=0)

# ---- Figure 7 ----
ax = add_ax(446, 735, 712, 922)
style(ax)
m7t, m7v = split(msci_korea_7)
ax.plot(m7t, m7v, color=LIGHT, lw=2.4)
ax.set_ylim(-75, 100)
ax.set_yticks(range(-75, 101, 25))
ax.set_yticklabels(['%d%%' % v for v in range(-75, 101, 25)])
ax.set_xlim(1999.87, 2020.8)
ax.set_xticks(range(2000, 2019, 3))
ax.set_xticklabels(yr_labels(range(2000, 2019, 3)))
axr = twin(ax, right=True)
it, iv = split(ism_new_orders)
ift, ifv = split(ism_forecast)
axr.plot(it, iv, color=DARK, lw=1.3)
axr.plot(ift, ifv, color=DARK, lw=1.6, ls=(0, (2, 1.5)))
axr.plot(ift[-1:], ifv[-1:], ls='none', marker='s', ms=5.5, color=DARK)
axr.set_ylim(-18, 24)
axr.set_yticks(range(-18, 25, 6))
fig.legend([Line2D([], [], color=LIGHT, lw=2.4), Line2D([], [], color=DARK, lw=1.3)],
           ['MSCI Korea (% yoy, US$ terms)', 'ISM New orders (yoy change, rhs)'],
           loc='upper left', bbox_to_anchor=(485 / W, 1 - 710 / H), frameon=False,
           fontsize=7, handlelength=2.6, handletextpad=0.2, labelspacing=0.25,
           borderpad=0, borderaxespad=0)

fig.savefig('out.png', dpi=100)
